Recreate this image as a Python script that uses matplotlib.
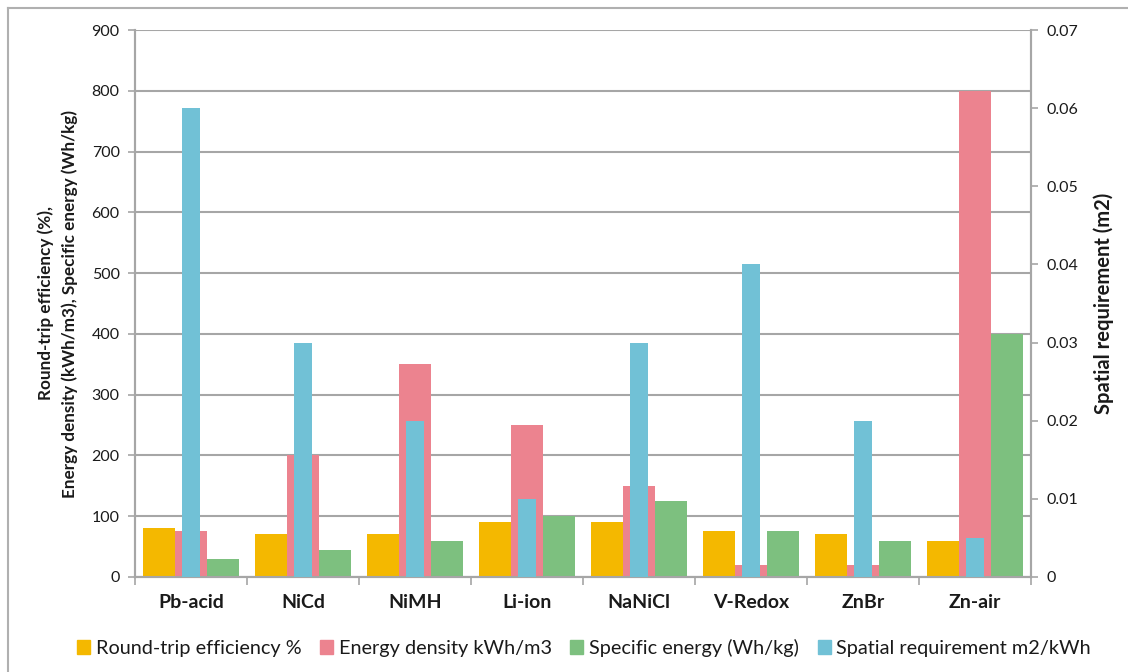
import numpy as np
import matplotlib
matplotlib.use("Agg")
from matplotlib import pyplot as plt
from matplotlib.lines import Line2D
from matplotlib.patches import Patch

plt.rcParams['font.family'] = ['Lato', 'DejaVu Sans']

# battery technologies and their properties
techs = ["Pb-acid", "NiCd", "NiMH", "Li-ion", "NaNiCl", "V-Redox", "ZnBr", "Zn-air"]
efficiency = [80, 70, 70, 90, 90, 75, 70, 60]          # %
energy_density = [75, 200, 350, 250, 150, 20, 20, 800]  # kWh/m3
specific_energy = [30, 45, 60, 100, 125, 75, 60, 400]   # Wh/kg
spatial_req = [0.06, 0.03, 0.02, 0.01, 0.03, 0.04, 0.02, 0.005]  # m2/kWh

c_orange = "#F4B800"
c_pink = "#EC838F"
c_green = "#7DC07F"
c_blue = "#71C1D6"
grid_c = "#A6A6A6"

fig = plt.figure(figsize=(11.28, 6.72), dpi=100)
ax = fig.add_axes([135/1128, 1 - 577/672, (1031-135)/1128, (577-30)/672])
ax2 = ax.twinx()

x = np.arange(len(techs))
w = 0.286
ax.bar(x - w, efficiency, w, color=c_orange, zorder=3)
ax.bar(x, energy_density, w, color=c_pink, zorder=3)
ax.bar(x + w, specific_energy, w, color=c_green, zorder=3)
ax2.bar(x, spatial_req, 0.16, color=c_blue, zorder=3)

ax.set_xlim(-0.5, len(techs) - 0.5)
ax.set_ylim(0, 900)
ax.set_yticks(np.arange(0, 901, 100))
ax2.set_ylim(0, 0.07)
ax2.set_yticks(np.arange(0, 0.071, 0.01))
ax2.set_yticklabels(["0", "0.01", "0.02", "0.03", "0.04", "0.05", "0.06", "0.07"])

ax.yaxis.grid(True, color=grid_c, lw=1.5, zorder=0)
ax.set_axisbelow(True)

# category ticks sit between groups
ax.set_xticks(np.arange(-0.5, len(techs), 1.0))
ax.set_xticklabels([])
ax.set_xticks(x, minor=True)
ax.set_xticklabels(techs, minor=True, fontsize=14, fontweight="bold", color="#1a1a1a")
ax.tick_params(axis="x", which="minor", length=0, pad=12)
ax.tick_params(axis="x", which="major", length=6, color=grid_c, width=1.2)

ax.tick_params(axis="y", length=5, color=grid_c, width=1.2, labelsize=11.5, labelcolor="#1a1a1a", pad=6)
ax2.tick_params(axis="y", length=5, color=grid_c, width=1.2, labelsize=11.5, labelcolor="#1a1a1a", pad=6)

for a in (ax, ax2):
    a.spines["top"].set_visible(False)
    for s in ("left", "right", "bottom"):
        a.spines[s].set_color(grid_c)
        a.spines[s].set_linewidth(1.5)

ax.set_ylabel("Round-trip efficiency (%),\nEnergy density (kWh/m3), Specific energy (Wh/kg)",
              fontsize=12.3, fontweight="bold", color="#1a1a1a", labelpad=10, linespacing=1.55)
ax2.set_ylabel("Spatial requirement (m2)", fontsize=14.5, fontweight="bold",
               color="#1a1a1a", labelpad=11)

handles = [Patch(color=c_orange), Patch(color=c_pink), Patch(color=c_green), Patch(color=c_blue)]
labels = ["Round-trip efficiency %", "Energy density kWh/m3",
          "Specific energy (Wh/kg)", "Spatial requirement m2/kWh"]
fig.legend(handles, labels, loc="center", bbox_to_anchor=(584/1128, 1 - 648/672),
           ncol=4, frameon=False, fontsize=14.3, handlelength=0.65, handleheight=0.65,
           handletextpad=0.28, columnspacing=0.95, labelcolor="#1a1a1a")

# chart area frame
fig.add_artist(Line2D([8/1128, 8/1128], [0, 1 - 8/672], transform=fig.transFigure,
                      color="#B0B0B0", lw=1.5))
fig.add_artist(Line2D([8/1128, 1], [1 - 8/672, 1 - 8/672], transform=fig.transFigure,
                      color="#B0B0B0", lw=1.5))

fig.savefig("out.png", dpi=100)
